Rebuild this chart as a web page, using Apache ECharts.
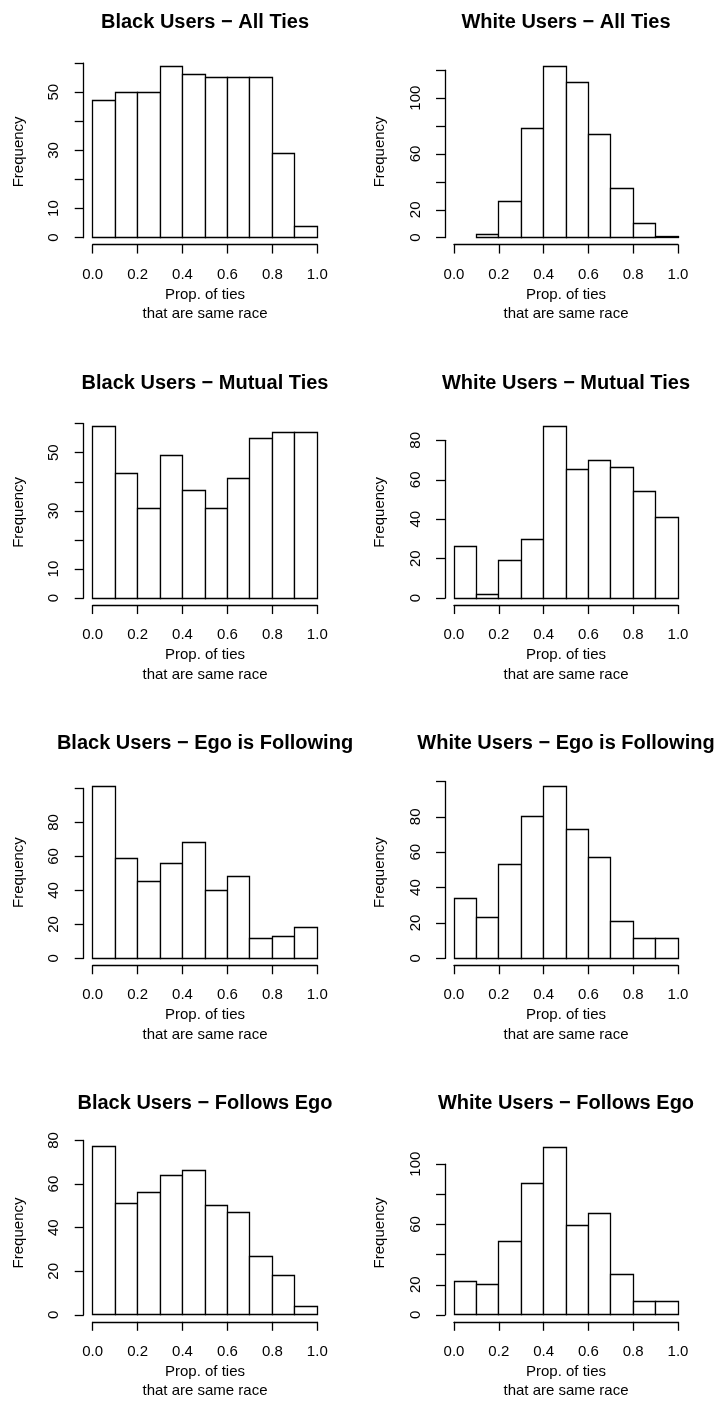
<!DOCTYPE html>
<html>
<head>
<meta charset="utf-8">
<script src="https://cdn.jsdelivr.net/npm/echarts@6/dist/echarts.min.js"></script>
<style>
html,body{margin:0;padding:0;background:#fff;}
#chart{width:717px;height:1402px;}
</style>
</head>
<body>
<div id="chart"></div>
<script>
// ---- data ----
const binEdges = [0.0, 0.1, 0.2, 0.3, 0.4, 0.5, 0.6, 0.7, 0.8, 0.9, 1.0];
const xTickLabels = ['0.0', '0.2', '0.4', '0.6', '0.8', '1.0'];
const titles = [
  'Black Users \u2212 All Ties', 'White Users \u2212 All Ties',
  'Black Users \u2212 Mutual Ties', 'White Users \u2212 Mutual Ties',
  'Black Users \u2212 Ego is Following', 'White Users \u2212 Ego is Following',
  'Black Users \u2212 Follows Ego', 'White Users \u2212 Follows Ego'
];
const blackAllTies      = [47, 50, 50, 59, 56, 55, 55, 55, 29, 4];
const whiteAllTies      = [0, 2, 26, 78, 123, 111, 74, 35, 10, 1];
const blackMutualTies   = [59, 43, 31, 49, 37, 31, 41, 55, 57, 57];
const whiteMutualTies   = [26, 2, 19, 30, 87, 65, 70, 66, 54, 41];
const blackEgoFollowing = [101, 59, 45, 56, 68, 40, 48, 12, 13, 18];
const whiteEgoFollowing = [34, 23, 53, 80, 97, 73, 57, 21, 11, 11];
const blackFollowsEgo   = [77, 51, 56, 64, 66, 50, 47, 27, 18, 4];
const whiteFollowsEgo   = [22, 20, 49, 87, 111, 59, 67, 27, 9, 9];
// y tick settings: step, last tick, labels shown
const yTickSteps = [10, 20, 10, 20, 20, 20, 20, 20];
const yTickMax   = [60, 120, 60, 80, 100, 100, 80, 100];
const yTickLabels = [
  [0, 10, 30, 50], [0, 20, 60, 100],
  [0, 10, 30, 50], [0, 20, 40, 60, 80],
  [0, 20, 40, 60, 80], [0, 20, 40, 60, 80],
  [0, 20, 40, 60, 80], [0, 20, 60, 100]
];
const xLabel = 'Prop. of ties\nthat are same race';
const yLabel = 'Frequency';
const allCounts = [blackAllTies, whiteAllTies, blackMutualTies, whiteMutualTies,
  blackEgoFollowing, whiteEgoFollowing, blackFollowsEgo, whiteFollowsEgo];

// ---- layout (R-style base graphics) ----
const FONT = '"Liberation Sans", Arial, Helvetica, sans-serif';
const colX0 = [92.7, 454.0];   // pixel of x = 0
const colX1 = [317.3, 678.0];  // pixel of x = 1
const rowY0 = [237.7, 598.2, 958.4, 1318.8]; // pixel of count = 0
const PLOT_H = 185.4;
const LW = 1.3;
const snap = v => Math.round(v - 0.5) + 0.5;

const grids = [], xAxes = [], yAxes = [], series = [], graphics = [];
allCounts.forEach((counts, i) => {
  const col = i % 2, row = Math.floor(i / 2);
  const maxC = Math.max.apply(null, counts);
  const ppu = PLOT_H / (1.08 * maxC);
  const y0 = rowY0[row];
  const gh = yTickMax[i] * ppu;
  const x0 = colX0[col], x1 = colX1[col];
  const xOff = 0.04 * maxC * ppu;
  const yOff = 0.04 * (x1 - x0);
  grids.push({left: x0, top: y0 - gh, width: x1 - x0, height: gh});
  xAxes.push({
    type: 'value', gridIndex: i, min: 0, max: 1, interval: 0.2,
    position: 'bottom', offset: xOff,
    axisLine: {show: true, onZero: false, lineStyle: {color: '#000', width: LW}},
    axisTick: {show: true, length: 9, lineStyle: {color: '#000', width: LW}},
    splitLine: {show: false},
    axisLabel: {
      margin: 22.5, fontSize: 15, fontFamily: FONT, color: '#000',
      formatter: v => xTickLabels[Math.round(v / 0.2)]
    },
    name: xLabel, nameLocation: 'middle', nameGap: 40,
    nameTextStyle: {fontSize: 15, fontFamily: FONT, color: '#000', lineHeight: 19.6}
  });
  const shown = yTickLabels[i];
  yAxes.push({
    type: 'value', gridIndex: i, min: 0, max: yTickMax[i], interval: yTickSteps[i],
    position: 'left', offset: yOff,
    axisLine: {show: true, onZero: false, lineStyle: {color: '#000', width: LW}},
    axisTick: {show: true, length: 9, lineStyle: {color: '#000', width: LW}},
    splitLine: {show: false},
    axisLabel: {
      rotate: 90, margin: 22,
      fontSize: 15, fontFamily: FONT, color: '#000',
      formatter: v => shown.indexOf(Math.round(v)) >= 0 ? String(Math.round(v)) : ''
    }
  });
  series.push({
    type: 'custom', xAxisIndex: i, yAxisIndex: i, clip: false,
    encode: {x: [0, 1], y: 2},
    data: counts.map((c, k) => [binEdges[k], binEdges[k + 1], c]),
    renderItem: function (params, api) {
      const c = api.value(2);
      if (!c) return null;
      const p0 = api.coord([api.value(0), 0]);
      const p1 = api.coord([api.value(1), c]);
      const xa = snap(p0[0]), xb = snap(p1[0]);
      const ya = snap(p1[1]), yb = snap(p0[1]);
      return {
        type: 'rect',
        shape: {x: xa, y: ya, width: xb - xa, height: yb - ya},
        style: {fill: '#fff', stroke: '#000', lineWidth: LW}
      };
    }
  });
  // title
  graphics.push({
    type: 'text', x: (x0 + x1) / 2, y: y0 - 215,
    style: {text: titles[i], font: 'bold 20px ' + FONT, fill: '#000', align: 'center', verticalAlign: 'middle'}
  });
  // y label
  graphics.push({
    type: 'text', x: x0 - yOff - 65, y: y0 - 0.5 * maxC * ppu, rotation: Math.PI / 2,
    style: {text: yLabel, font: '15px ' + FONT, fill: '#000', align: 'center', verticalAlign: 'middle'}
  });
});

const chart = echarts.init(document.getElementById('chart'), null, {renderer: 'canvas'});
chart.setOption({
  backgroundColor: '#fff',
  animation: false,
  grid: grids, xAxis: xAxes, yAxis: yAxes, series: series,
  graphic: graphics
});
</script>
</body>
</html>
